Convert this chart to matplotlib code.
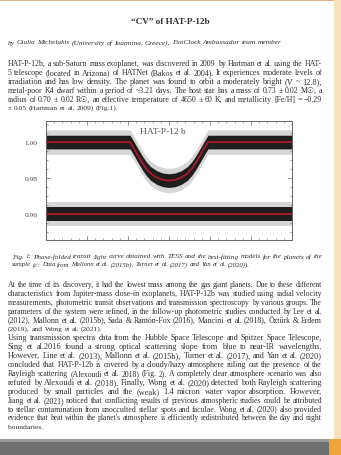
import matplotlib
matplotlib.use("Agg")
import matplotlib.pyplot as plt
import numpy as np
from matplotlib.patches import Rectangle
from matplotlib.ticker import AutoMinorLocator, FixedLocator

W, H = 341, 456
FONT = ["Liberation Serif", "DejaVu Serif", "DejaVu Sans"]
TEXT_COLOR = "#2e2e2e"

# ---------------- data ----------------
time_h = [-3.0, -0.95, -0.85, -0.75, -0.65, -0.55, -0.45, -0.30, -0.15, 0.0,
          0.15, 0.30, 0.45, 0.55, 0.65, 0.75, 0.85, 0.95, 3.0]
model_flux = [1.000, 1.000, 0.9962, 0.9922, 0.9884, 0.9851, 0.9826, 0.9803,
              0.9790, 0.9786, 0.9790, 0.9803, 0.9826, 0.9851, 0.9884, 0.9922,
              0.9962, 1.000, 1.000]
resid_time = [-3.0, 3.0]
resid_level = [0.960, 0.960]
scatter_core = 0.0038
scatter_outer = 0.0068
ytick_values = [0.96, 0.98, 1.00]
ytick_labels = ["0.96", "0.98", "1.00"]
planet_label = "HAT-P-12 b"

title = "\u201cCV\u201d of HAT-P-12b"
author = ("by Giulia Michelakis (University of Ioannina, Greece), "
          "ExoClock Ambassador team member")
para1 = [
    "HAT-P-12b, a sub-Saturn mass exoplanet, was discovered in 2009 by Hartman et al. using the HAT-",
    "5 telescope (located in Arizona) of HATNet (Bakos et al. 2004). It experiences moderate levels of",
    "irradiation and has low density. The planet was found to orbit a moderately bright (V ~ 12.8),",
    "metal-poor K4 dwarf within a period of ~3.21 days. The host star has a mass of 0.73 \u00b1 0.02 M\u2609, a",
    "radius of 0.70 \u00b1 0.02 R\u2609, an effective temperature of 4650 \u00b1 60 K, and metallicity [Fe/H] = \u22120.29",
    "\u00b1 0.05 (Hartman et al. 2009) (Fig.1).",
]
caption = [
    "Fig. 1: Phase-folded transit light curve obtained with TESS and the best-fitting models for the planets of the",
    "sample (c: Data from Mallonn et al. (2015b), Turner et al. (2017) and Yan et al. (2020)).",
]
para2 = [
    "At the time of its discovery, it had the lowest mass among the gas giant planets. Due to these different",
    "characteristics from Jupiter-mass close-in exoplanets, HAT-P-12b was studied using radial velocity",
    "measurements, photometric transit observations and transmission spectroscopy by various groups. The",
    "parameters of the system were refined, in the follow-up photometric studies conducted by Lee et al.",
    "(2012), Mallonn et al. (2015b), Sada & Ram\u00f3n-Fox (2016), Mancini et al. (2018), \u00d6zt\u00fcrk & Erdem",
    "(2019), and Wong et al. (2021).",
    "Using transmission spectra data from the Hubble Space Telescope and Spitzer Space Telescope,",
    "Sing et al.2016 found a strong optical scattering slope from blue to near-IR wavelengths.",
    "However, Line et al. (2013), Mallonn et al. (2015b), Turner et al. (2017), and Yan et al. (2020)",
    "concluded that HAT-P-12b is covered by a cloudy/hazy atmosphere ruling out the presence of the",
    "Rayleigh scattering (Alexoudi et al. 2018) (Fig. 2). A completely clear atmosphere scenario was also",
    "refuted by Alexoudi et al. (2018). Finally, Wong et al. (2020) detected both Rayleigh scattering",
    "produced by small particles and the (weak) 1.4 micron water vapor absorption. However,",
    "Jiang et al. (2021) noticed that conflicting results of previous atmospheric studies could be attributed",
    "to stellar contamination from unocculted stellar spots and faculae. Wong et al. (2020) also provided",
    "evidence that heat within the planet's atmosphere is efficiently redistributed between the day and night",
    "boundaries.",
]
para2_last = {5, 16}

# ---------------- figure ----------------
fig = plt.figure(figsize=(W / 100, H / 100), dpi=100)
fig.patch.set_facecolor("white")


def px_rect(x, y, w, h, color, z=0):
    fig.patches.append(Rectangle((x / W, 1 - (y + h) / H), w / W, h / H,
                                 transform=fig.transFigure, facecolor=color,
                                 edgecolor="none", zorder=z))


px_rect(0, 0, W, 2, "#d8b48e")
px_rect(334, 0, 7, 440, "#f8e2bd")
px_rect(0, 440, W, 16, "#6f6f6f")
px_rect(0, 440, W, 3, "#9a9a9a")
px_rect(329, 440, 12, 16, "#f0a43c")

renderer = fig.canvas.get_renderer()


def make_words(words, size, style, weight):
    texts, widths = [], []
    for w in words:
        t = fig.text(0, 0, w, fontsize=size, family=FONT, style=style,
                     weight=weight, color=TEXT_COLOR, va="center", ha="left")
        widths.append(t.get_window_extent(renderer=renderer).width)
        texts.append(t)
    return texts, widths


def place_line(line, y_px, x0, x1, size, style="normal", weight="normal",
               justify=True):
    words = line.split(" ")
    texts, widths = make_words(words, size, style, weight)
    natural_gap = size * 0.25 * 100 / 72
    if justify and len(words) > 1:
        natural = sum(widths) + natural_gap * (len(words) - 1)
        scale = min(max((x1 - x0) / natural, 0.92), 1.10)
        if abs(scale - 1) > 0.01:
            for t in texts:
                t.remove()
            size = size * scale
            natural_gap = size * 0.25 * 100 / 72
            texts, widths = make_words(words, size, style, weight)
        gap = (x1 - x0 - sum(widths)) / (len(words) - 1)
        gap = max(gap, natural_gap * 0.7)
    else:
        gap = natural_gap
    x = x0
    for t, w in zip(texts, widths):
        t.set_position((x / W, 1 - y_px / H))
        x += w + gap


fig.text(170 / W, 1 - 22 / H, title, fontsize=6.6, family=FONT,
         weight="bold", color=TEXT_COLOR, ha="center", va="center")
place_line(author, 43, 8, 285, 5.3, style="italic", justify=False)

LS = 8.9
BODY = 5.4
for i, line in enumerate(para1):
    place_line(line, 64 + i * LS, 8, 322, BODY,
               justify=(i != len(para1) - 1))

for i, line in enumerate(caption):
    place_line(line, 257 + i * 8, 12, 322, 4.8, style="italic",
               justify=(i != len(caption) - 1))

for i, line in enumerate(para2):
    place_line(line, 285 + i * LS, 8, 322, BODY,
               justify=(i not in para2_last))

# ---------------- light curve axes ----------------
ax = fig.add_axes([46 / W, 1 - 241 / H, 246 / W, 119 / H])
t = np.array(time_h)
f = np.array(model_flux)
rt = np.array(resid_time)
rl = np.array(resid_level)

for xx, yy in ((t, f), (rt, rl)):
    ax.fill_between(xx, yy - scatter_outer, yy + scatter_outer,
                    color="#d6d6d6", lw=0, zorder=1)
    ax.fill_between(xx, yy - scatter_core, yy + scatter_core,
                    color="#1e1e1e", lw=0, zorder=2)
    ax.plot(xx, yy, color="#a3192e", lw=1.4, zorder=3)

ax.set_xlim(-3.0, 3.0)
ax.set_ylim(0.9456, 1.0117)
ax.yaxis.set_major_locator(FixedLocator(ytick_values))
ax.set_yticklabels(ytick_labels)
ax.xaxis.set_minor_locator(AutoMinorLocator(5))
ax.yaxis.set_minor_locator(AutoMinorLocator(4))
ax.tick_params(which="both", direction="in", top=True, right=True,
               color="#666666", labelbottom=False, labelsize=5.3,
               labelcolor="#444444", pad=6)
ax.tick_params(which="major", length=3, width=0.5)
ax.tick_params(which="minor", length=1.5, width=0.4)
for lab in ax.get_yticklabels():
    lab.set_family(FONT)
for s in ax.spines.values():
    s.set_color("#666666")
    s.set_linewidth(0.7)
ax.text(-0.15, 1.0062, planet_label, fontsize=6.8, family=FONT,
        color="#555555", ha="center", va="center", zorder=4,
        bbox=dict(facecolor="white", edgecolor="none", pad=0.5, alpha=0.7))

fig.savefig("out.png", dpi=100, facecolor=fig.get_facecolor())
